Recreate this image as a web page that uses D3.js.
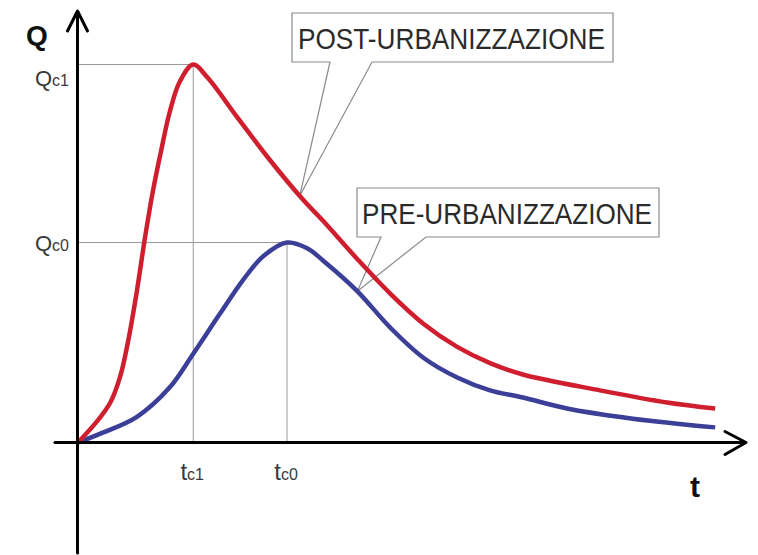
<!DOCTYPE html>
<html>
<head>
<meta charset="utf-8">
<script src="https://cdn.jsdelivr.net/npm/d3@7/dist/d3.min.js"></script>
<style>
  html, body { margin: 0; padding: 0; background: #fff; }
  svg { display: block; }
  text { font-family: "Liberation Sans", Arial, sans-serif; }
</style>
</head>
<body>
<script>
// ---- data (arbitrary units: t in time units, Q in discharge units) ----
const tPost = [0, 0.28, 0.48, 0.63, 0.75, 0.88, 1.00, 1.12, 1.25, 1.37, 1.52, 1.72, 1.93, 2.37, 2.87, 3.36, 3.66, 4.16, 4.66, 5.15, 5.66, 6.15, 6.64, 7.79, 8.79, 9.51];
const qPost = [0, 0.55, 1.05, 1.75, 2.70, 4.02, 5.42, 6.67, 7.80, 8.75, 9.55, 10.0, 9.66, 8.62, 7.46, 6.42, 5.86, 4.87, 3.94, 3.15, 2.53, 2.10, 1.80, 1.38, 1.06, 0.90];
const tPre  = [0, 0.37, 0.88, 1.37, 1.72, 2.12, 2.46, 2.76, 3.12, 3.42, 3.66, 4.16, 4.66, 5.15, 5.66, 6.15, 6.64, 7.30, 8.28, 9.51];
const qPre  = [0, 0.26, 0.68, 1.46, 2.35, 3.41, 4.29, 4.92, 5.29, 5.14, 4.81, 4.02, 3.04, 2.25, 1.72, 1.38, 1.19, 0.90, 0.63, 0.40];

// peak markers
const peakT = [1.72, 3.12];          // tc1, tc0
const peakQ = [10.0, 5.29];          // Qc1, Qc0
const peakQLabels = [["Q", "c1"], ["Q", "c0"]];
const peakTLabels = [["t", "c1"], ["t", "c0"]];
const axisLabels = ["Q", "t"];
const seriesNames = ["POST-URBANIZZAZIONE", "PRE-URBANIZZAZIONE"];
// points on each curve where the callout pointer touches
const calloutT = [3.31, 4.17];

// ---- layout ----
const W = 758, H = 555;
const x = d3.scaleLinear().domain([0, 10]).range([78, 748]);
const y = d3.scaleLinear().domain([0, 10]).range([442.5, 64.5]);

const svg = d3.select("body").append("svg").attr("width", W).attr("height", H);
svg.append("rect").attr("width", W).attr("height", H).attr("fill", "#fff");

// guide lines
const guide = svg.append("g").attr("stroke", "#9a9a9a").attr("stroke-width", 1).attr("fill", "none");
peakT.forEach((t, i) => {
  guide.append("line").attr("x1", x(0)).attr("x2", x(t)).attr("y1", y(peakQ[i])).attr("y2", y(peakQ[i]));
  guide.append("line").attr("x1", x(t)).attr("x2", x(t)).attr("y1", y(peakQ[i])).attr("y2", y(0));
});

// curves
const line = d3.line().x(d => x(d[0])).y(d => y(d[1])).curve(d3.curveCatmullRom.alpha(0.5));
const postData = tPost.map((t, i) => [t, qPost[i]]);
const preData = tPre.map((t, i) => [t, qPre[i]]);

// interpolate the curve value at t for callout tips
function valAt(ts, qs, t) {
  for (let i = 1; i < ts.length; i++) {
    if (t <= ts[i]) {
      const f = (t - ts[i - 1]) / (ts[i] - ts[i - 1]);
      return qs[i - 1] + f * (qs[i] - qs[i - 1]);
    }
  }
  return qs[qs.length - 1];
}

// callouts
const callouts = [
  { name: seriesNames[0], box: [292, 13, 613, 62], base: [330, 372], tip: [x(calloutT[0]), y(valAt(tPost, qPost, calloutT[0]))], tx: 298, ty: 48.5, len: 307 },
  { name: seriesNames[1], box: [357, 188, 659, 237], base: [381, 426], tip: [x(calloutT[1]), y(valAt(tPre, qPre, calloutT[1]))], tx: 362, ty: 223.5, len: 290 }
];
callouts.forEach(c => {
  const [x0, y0, x1, y1] = c.box;
  const p = `M${x0},${y0}H${x1}V${y1}H${c.base[1]}L${c.tip[0]},${c.tip[1]}L${c.base[0]},${y1}H${x0}Z`;
  svg.append("path").attr("d", p).attr("fill", "none").attr("stroke", "#8a8a8a").attr("stroke-width", 1.2);
  svg.append("text").attr("x", c.tx).attr("y", c.ty)
    .attr("font-size", 30).attr("fill", "#2a2a2a")
    .attr("textLength", c.len).attr("lengthAdjust", "spacingAndGlyphs")
    .text(c.name);
});

svg.append("path").datum(preData).attr("d", line)
  .attr("fill", "none").attr("stroke", "#3b3f98").attr("stroke-width", 4.5).attr("stroke-linejoin", "round");
svg.append("path").datum(postData).attr("d", line)
  .attr("fill", "none").attr("stroke", "#cf1f2f").attr("stroke-width", 4.5).attr("stroke-linejoin", "round");

// axes
const ax = svg.append("g").attr("stroke", "#000").attr("stroke-width", 3).attr("fill", "none")
  .attr("stroke-linecap", "round").attr("stroke-linejoin", "round");
const x0px = x(0), y0px = y(0);
ax.append("line").attr("x1", 55).attr("x2", 745).attr("y1", y0px).attr("y2", y0px);
ax.append("path").attr("d", `M${725},${y0px - 11}L${746},${y0px}L${725},${y0px + 12}`);
ax.append("line").attr("x1", x0px - 0.5).attr("x2", x0px - 0.5).attr("y1", 553).attr("y2", 13);
ax.append("path").attr("d", `M${x0px - 10.5},${31}L${x0px - 0.5},${11}L${x0px + 9.5},${31}`);

// axis titles
svg.append("text").attr("x", 26).attr("y", 45).attr("font-size", 28).attr("font-weight", "bold").attr("fill", "#111").text(axisLabels[0]);
svg.append("text").attr("x", 690).attr("y", 497).attr("font-size", 30).attr("font-weight", "bold").attr("fill", "#111").text(axisLabels[1]);

// peak labels on Q axis
const qLabelY = [86, 251];
peakQLabels.forEach((lab, i) => {
  const t = svg.append("text").attr("x", 69).attr("y", qLabelY[i]).attr("text-anchor", "end").attr("fill", "#3a3a3a");
  t.append("tspan").attr("font-size", 22).text(lab[0]);
  t.append("tspan").attr("font-size", 16).text(lab[1]);
});
// peak labels on t axis
peakTLabels.forEach((lab, i) => {
  const t = svg.append("text").attr("x", x(peakT[i]) - 1).attr("y", 480).attr("text-anchor", "middle").attr("fill", "#3a3a3a");
  t.append("tspan").attr("font-size", 24).text(lab[0]);
  t.append("tspan").attr("font-size", 16).text(lab[1]);
});
</script>
</body>
</html>
